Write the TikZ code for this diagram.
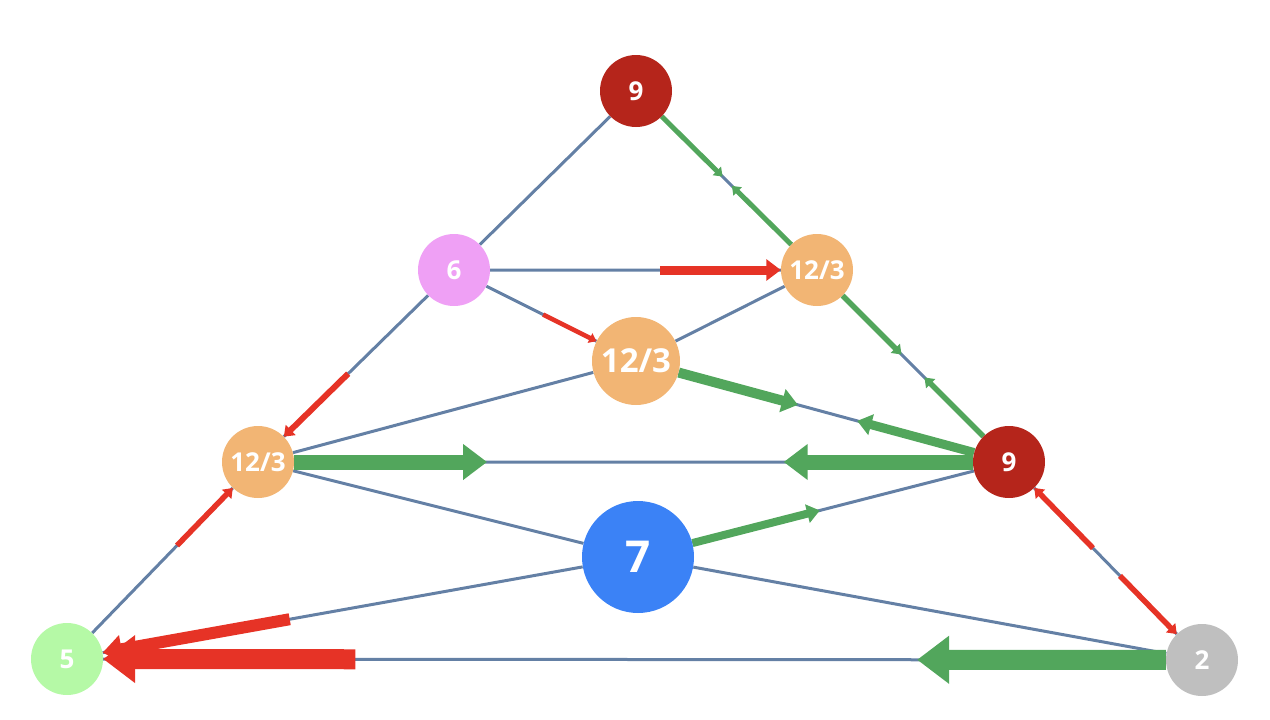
\documentclass[tikz,border=0pt]{standalone}
\usepackage{fontspec}
\setmainfont{Open Sans}
\usetikzlibrary{arrows.meta,calc,backgrounds}
\definecolor{edgec}{RGB}{100,128,165}
\definecolor{gr}{RGB}{82,166,92}
\definecolor{rd}{RGB}{230,51,38}
\definecolor{dred}{RGB}{181,37,27}
\definecolor{pinkc}{RGB}{239,160,245}
\definecolor{orc}{RGB}{242,181,116}
\definecolor{bluec}{RGB}{59,130,246}
\definecolor{lgreen}{RGB}{181,249,166}
\definecolor{grayc}{RGB}{191,191,191}
\begin{document}
\begin{tikzpicture}[x=1pt,y=-1pt,
  nd/.style={circle,inner sep=0pt,minimum size=72pt,text=white,text depth=0pt,
    font=\fontsize{26}{26}\selectfont\bfseries},
  edge/.style={draw=edgec,line width=3pt},
  flow/.style={line width=#1,-{Triangle[length=0pt 1.6,width=0pt 2.3]}},
  gflow/.style={flow=#1,draw=gr},
  rflow/.style={flow=#1,draw=rd}]
\useasboundingbox (0,0) rectangle (1270,720);
\node[nd,fill=dred] (t9) at (636,91) {9};
\node[nd,fill=pinkc] (n6) at (454,270) {6};
\node[nd,fill=orc] (r123) at (817,270) {12/3};
\node[nd,fill=orc,minimum size=88pt,font=\fontsize{33}{33}\selectfont\bfseries] (c123) at (636,361) {12/3};
\node[nd,fill=orc] (l123) at (258,462) {12/3};
\node[nd,fill=dred] (r9) at (1009,462) {9};
\node[nd,fill=bluec,minimum size=112pt,font=\fontsize{44}{44}\selectfont\bfseries] (n7) at (638,557) {7};
\node[nd,fill=lgreen] (n5) at (67,659) {5};
\node[nd,fill=grayc] (n2) at (1202,660) {2};
\begin{scope}[on background layer]
\draw[edge] (t9)--(n6) (n6)--(l123) (l123)--(n5) (t9)--(r123) (r123)--(r9) (r9)--(n2)
  (n5)--(n2) (n6)--(r123) (l123)--(r9) (n6)--(c123) (l123)--(c123) (c123)--(r123)
  (c123)--(r9) (l123)--(n7) (n7)--(n2) (n7)--(n5) (n7)--(r9);
\draw[gflow=5pt] (t9)--($(t9)!0.478!(r123)$);
\draw[gflow=5pt] (r123)--($(r123)!0.47!(t9)$);
\draw[gflow=5.5pt] (r123)--($(r123)!0.44!(r9)$);
\draw[gflow=5.5pt] (r9)--($(r9)!0.44!(r123)$);
\draw[rflow=9pt] ($(n6)!0.567!(r123)$)--(r123);
\draw[rflow=4.5pt] ($(n6)!0.49!(c123)$)--(c123);
\draw[rflow=6pt] ($(n6)!0.54!(l123)$)--(l123);
\draw[rflow=5.5pt] ($(n5)!0.576!(l123)$)--(l123);
\draw[gflow=15pt] (l123)--($(l123)!0.305!(r9)$);
\draw[gflow=15pt] (r9)--($(r9)!0.30!(l123)$);
\draw[gflow=10pt] (c123)--($(c123)!0.434!(r9)$);
\draw[gflow=9pt] (r9)--($(r9)!0.407!(c123)$);
\draw[rflow=12pt] ($(n7)!0.61!(n5)$)--(n5);
\draw[gflow=8pt] (n7)--($(n7)!0.49!(r9)$);
\draw[rflow=20pt] ($(n5)!0.254!(n2)$)--(n5);
\draw[gflow=20pt] (n2)--($(n2)!0.251!(n5)$);
\draw[rflow=5.5pt] ($(r9)!0.435!(n2)$)--(r9);
\draw[rflow=5.5pt] ($(n2)!0.425!(r9)$)--(n2);
\end{scope}
\end{tikzpicture}
\end{document}
